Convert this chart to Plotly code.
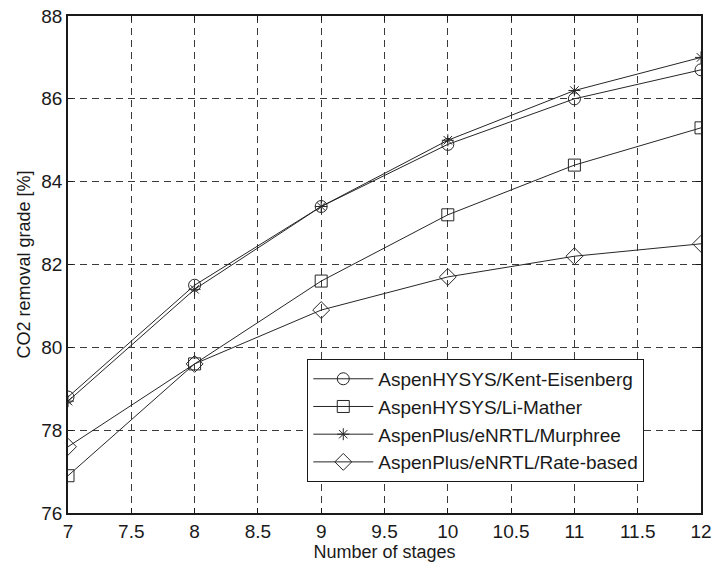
import plotly.graph_objects as go

# Number of equilibrium stages on the x-axis
stages = [7, 8, 9, 10, 11, 12]

# CO2 removal grade [%] for each simulation approach
kent_eisenberg = [78.8, 81.5, 83.4, 84.9, 86.0, 86.7]
li_mather = [76.9, 79.6, 81.6, 83.2, 84.4, 85.3]
murphree = [78.7, 81.4, 83.4, 85.0, 86.2, 87.0]
rate_based = [77.6, 79.6, 80.9, 81.7, 82.2, 82.5]

series = [
    ("AspenHYSYS/Kent-Eisenberg", kent_eisenberg, "circle-open", 12),
    ("AspenHYSYS/Li-Mather", li_mather, "square-open", 12),
    ("AspenPlus/eNRTL/Murphree", murphree, "asterisk-open", 10),
    ("AspenPlus/eNRTL/Rate-based", rate_based, "diamond-open", 13),
]

x_ticks = [7, 7.5, 8, 8.5, 9, 9.5, 10, 10.5, 11, 11.5, 12]
x_tick_text = ["7", "7.5", "8", "8.5", "9", "9.5", "10", "10.5", "11", "11.5", "12"]
y_ticks = [76, 78, 80, 82, 84, 86, 88]

line_color = "#262626"
font_family = "Liberation Sans, Arial, Helvetica, sans-serif"

fig = go.Figure()
for i, (name, values, symbol, size) in enumerate(series):
    fig.add_trace(go.Scatter(
        x=stages,
        y=values,
        name=name,
        mode="lines+markers",
        legendgroup=f"g{i}",
        line=dict(color=line_color, width=1),
        marker=dict(symbol=symbol, size=size, color=line_color,
                    line=dict(color=line_color, width=1)),
    ))

axis_common = dict(
    showline=True,
    linecolor="#1a1a1a",
    linewidth=1.5,
    mirror="ticks",
    ticks="inside",
    ticklen=5,
    tickcolor="#1a1a1a",
    showgrid=True,
    gridcolor="#3a3a3a",
    gridwidth=1,
    griddash="7px,5px",
    zeroline=False,
    automargin=False,
    tickfont=dict(family=font_family, size=19, color="#1a1a1a"),
)

fig.update_layout(
    width=713,
    height=568,
    margin=dict(l=68, r=12, t=16, b=55),
    paper_bgcolor="white",
    plot_bgcolor="white",
    font=dict(family=font_family, size=18, color="#1a1a1a"),
    xaxis=dict(
        range=[7, 12],
        tickvals=x_ticks,
        ticktext=x_tick_text,
        title=dict(text="Number of stages", standoff=2,
                   font=dict(family=font_family, size=18)),
        **axis_common,
    ),
    yaxis=dict(
        range=[76, 88],
        tickvals=y_ticks,
        title=dict(text="CO2 removal grade [%]", standoff=6,
                   font=dict(family=font_family, size=18)),
        **axis_common,
    ),
    legend=dict(
        x=0.378,
        y=0.31,
        xanchor="left",
        yanchor="top",
        bgcolor="white",
        bordercolor="#1a1a1a",
        borderwidth=1,
        itemwidth=60,
        tracegroupgap=0,
        font=dict(family=font_family, size=19, color="#1a1a1a"),
    ),
    showlegend=True,
)

fig.write_html("out.html")
